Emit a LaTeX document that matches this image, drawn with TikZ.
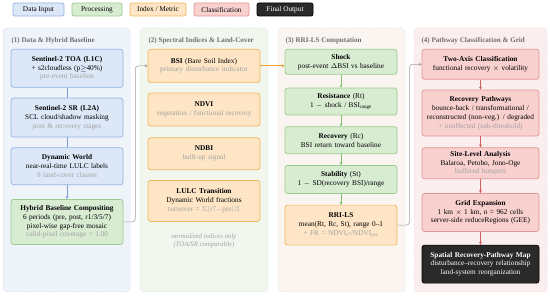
\documentclass[tikz,border=0pt]{standalone}
\usepackage{fontspec}
\setmainfont{Liberation Serif}
\usetikzlibrary{arrows.meta, positioning, calc}

\definecolor{inFill}{HTML}{DCE8F8}
\definecolor{inDraw}{HTML}{93B4E2}
\definecolor{procFill}{HTML}{D8ECD2}
\definecolor{procDraw}{HTML}{9ACB8E}
\definecolor{idxFill}{HTML}{FDE5C5}
\definecolor{idxDraw}{HTML}{F2B65A}
\definecolor{clsFill}{HTML}{F8D0CE}
\definecolor{clsDraw}{HTML}{E39794}
\definecolor{finFill}{HTML}{2A2A2A}
\definecolor{subGray}{HTML}{A2A2A2}
\definecolor{titleGray}{HTML}{707070}
\definecolor{lineGray}{HTML}{A0A0A0}
\definecolor{arrBlue}{HTML}{7C9FD6}
\definecolor{arrGreen}{HTML}{7FBF6E}
\definecolor{arrRed}{HTML}{D06060}
\definecolor{arrOrange}{HTML}{F0A030}
\definecolor{pOneFill}{HTML}{EFF3FA}
\definecolor{pOneDraw}{HTML}{C2D0E6}
\definecolor{pTwoFill}{HTML}{F1F7EE}
\definecolor{pTwoDraw}{HTML}{C8DCBF}
\definecolor{pThreeFill}{HTML}{FAF5F0}
\definecolor{pThreeDraw}{HTML}{E0D4C6}
\definecolor{pFourFill}{HTML}{FBEEEE}
\definecolor{pFourDraw}{HTML}{E8C8C8}

\newcommand{\subtxt}[1]{\textcolor{subGray}{#1}}

\begin{document}
\begin{tikzpicture}[
    x=1pt, y=-1pt,
    every node/.style={font=\fontsize{7.3}{8.8}\selectfont},
    block/.style={rectangle, rounded corners=2.5pt, line width=0.7pt, align=center, inner xsep=0.5pt, inner ysep=1pt, text width=#1},
    block/.default=111pt,
    inbox/.style={block, fill=inFill, draw=inDraw},
    procbox/.style={block, fill=procFill, draw=procDraw},
    idxbox/.style={block, fill=idxFill, draw=idxDraw},
    clsbox/.style={block=116pt, fill=clsFill, draw=clsDraw},
    finbox/.style={block=116pt, fill=finFill, draw=black, text=white},
    legend/.style={rectangle, rounded corners=2pt, line width=0.7pt, minimum height=13pt, inner sep=0pt},
    panel/.style={rounded corners=4pt, densely dotted, line width=0.5pt},
    ptitle/.style={anchor=west, text=titleGray, font=\fontsize{7.1}{8}\selectfont\bfseries},
    flow/.style={-{Stealth[length=3pt,width=3pt]}, line width=0.7pt},
    link/.style={-{Stealth[length=3pt,width=3pt]}, line width=0.6pt, lineGray, rounded corners=3pt}
    ]
    \useasboundingbox (0,0) rectangle (550,296);

    % legend
    \node[legend, fill=inFill, draw=inDraw, minimum width=51pt] (leg-in) at (38.5,9.5) {Data Input};
    \node[legend, fill=procFill, draw=procDraw, minimum width=50pt] (leg-proc) at (97,9.5) {Processing};
    \node[legend, fill=idxFill, draw=idxDraw, minimum width=56pt] (leg-idx) at (158,9.5) {Index / Metric};
    \node[legend, fill=clsFill, draw=clsDraw, minimum width=55pt] (leg-cls) at (221.5,9.5) {Classification};
    \node[legend, fill=finFill, draw=black, text=white, minimum width=56pt] (leg-fin) at (285,9.5) {Final Output};

    % panels
    \draw[panel, fill=pOneFill, draw=pOneDraw] (3,28) rectangle (130,292);
    \draw[panel, fill=pTwoFill, draw=pTwoDraw] (140,28) rectangle (268,292);
    \draw[panel, fill=pThreeFill, draw=pThreeDraw] (278,28) rectangle (405,292);
    \draw[panel, fill=pFourFill, draw=pFourDraw] (414,28) rectangle (547,292);
    \node[ptitle] (t1) at (8,41) {(1) Data \& Hybrid Baseline};
    \node[ptitle] (t2) at (145,41) {(2) Spectral Indices \& Land-Cover};
    \node[ptitle] (t3) at (282,41) {(3) RRI-LS Computation};
    \node[ptitle] (t4) at (418,41) {(4) Pathway Classification \& Grid};

    % (1) data
    \node[inbox, anchor=north, minimum height=38pt] (toa) at (67,49) {\textbf{Sentinel-2 TOA (L1C)}\\+ s2cloudless (p$\geq$40\%)\\\subtxt{pre-event baseline}};
    \node[inbox, below=10pt of toa, minimum height=39pt] (sr) {\textbf{Sentinel-2 SR (L2A)}\\SCL cloud/shadow masking\\\subtxt{post \& recovery stages}};
    \node[inbox, below=10pt of sr, minimum height=37pt] (dw) {\textbf{Dynamic World}\\near-real-time LULC labels\\\subtxt{9 land-cover classes}};
    \node[procbox, below=14pt of dw, minimum height=45pt] (hybrid) {\textbf{Hybrid Baseline Compositing}\\6 periods (pre, post, r1/3/5/7)\\pixel-wise gap-free mosaic\\\subtxt{valid-pixel coverage = 1.00}};

    % (2) indices
    \node[idxbox, anchor=north, minimum height=33pt] (bsi) at (204,49) {\textbf{BSI} (Bare Soil Index)\\\subtxt{primary disturbance indicator}};
    \node[idxbox, below=10pt of bsi, minimum height=33pt] (ndvi) {\textbf{NDVI}\\\subtxt{vegetation / functional recovery}};
    \node[idxbox, below=11pt of ndvi, minimum height=32pt] (ndbi) {\textbf{NDBI}\\\subtxt{built-up signal}};
    \node[idxbox, below=10pt of ndbi, minimum height=41pt] (lulc) {\textbf{LULC Transition}\\Dynamic World fractions\\\subtxt{turnover = $\Sigma|$r7$-$pre$|$/2}};
    \node[below=8pt of lulc, align=center, text=subGray, font=\fontsize{6.8}{8.6}\selectfont\itshape] (note) {normalized indices only\\(TOA/SR comparable)};

    % (3) RRI-LS
    \node[procbox, anchor=north, minimum height=25pt] (shock) at (341,49) {\textbf{Shock}\\post-event $\Delta$BSI vs baseline};
    \node[procbox, below=13pt of shock, minimum height=27pt] (resist) {\textbf{Resistance} (Rt)\\1 $-$ shock / BSI\textsubscript{range}};
    \node[procbox, below=11pt of resist, minimum height=27pt] (recov) {\textbf{Recovery} (Rc)\\BSI return toward baseline};
    \node[procbox, below=11pt of recov, minimum height=28pt] (stab) {\textbf{Stability} (St)\\1 $-$ SD(recovery BSI)/range};
    \node[idxbox, below=11pt of stab, minimum height=40pt] (rri) {\textbf{RRI-LS}\\mean(Rt, Rc, St), range 0--1\\\subtxt{+ FR = NDVI\textsubscript{r7}/NDVI\textsubscript{pre}}};

    % (4) classification
    \node[clsbox, anchor=north, minimum height=30pt] (twoaxis) at (480.5,49) {\textbf{Two-Axis Classification}\\functional recovery $\times$ volatility};
    \node[clsbox, below=10pt of twoaxis, minimum height=46pt] (paths) {\textbf{Recovery Pathways}\\bounce-back / transformational /\\reconstructed (non-veg.) / degraded\\\subtxt{+ unaffected (sub-threshold)}};
    \node[clsbox, below=11pt of paths, minimum height=31pt] (site) {\textbf{Site-Level Analysis}\\Balaroa, Petobo, Jono-Oge\\\subtxt{buffered hotspots}};
    \node[clsbox, below=14pt of site, minimum height=38pt] (grid) {\textbf{Grid Expansion}\\1 km $\times$ 1 km, n = 962 cells\\server-side reduceRegions (GEE)};
    \node[finbox, below=13pt of grid, minimum height=38pt] (final) {\textbf{Spatial Recovery-Pathway Map}\\disturbance--recovery relationship\\land-system reorganization};

    % connectors
    \draw[arrBlue, line width=0.7pt] (toa) -- (sr);
    \draw[arrBlue, line width=0.7pt] (sr) -- (dw);
    \draw[flow, arrBlue] (dw) -- (hybrid);
    \foreach \a/\b in {shock/resist, resist/recov, recov/stab, stab/rri}
        \draw[flow, arrGreen] (\a) -- (\b);
    \foreach \a/\b in {twoaxis/paths, paths/site, site/grid, grid/final}
        \draw[flow, arrRed] (\a) -- (\b);
    \draw[link] (hybrid.east) -- ++(12,0) |- (bsi.west);
    \draw[flow, arrOrange] (bsi.east) -- (bsi.east -| shock.west);
    \draw[link] (rri.east) -- ++(12,0) |- (twoaxis.west);
\end{tikzpicture}
\end{document}
